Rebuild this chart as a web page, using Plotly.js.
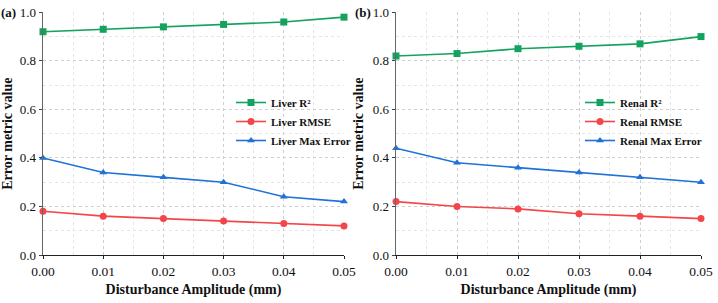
<!DOCTYPE html>
<html>
<head>
<meta charset="utf-8">
<script src="https://cdn.plot.ly/plotly-3.0.1.min.js"></script>
<style>
  html, body { margin: 0; padding: 0; background: #fff; }
  #chart { width: 718px; height: 303px; }
</style>
</head>
<body>
<div id="chart"></div>
<script>
// Disturbance amplitudes (mm)
const amplitude = [0.00, 0.01, 0.02, 0.03, 0.04, 0.05];

// Liver metrics
const liverR2 = [0.92, 0.93, 0.94, 0.95, 0.96, 0.98];
const liverRMSE = [0.18, 0.16, 0.15, 0.14, 0.13, 0.12];
const liverMaxErr = [0.40, 0.34, 0.32, 0.30, 0.24, 0.22];

// Renal metrics
const renalR2 = [0.82, 0.83, 0.85, 0.86, 0.87, 0.90];
const renalRMSE = [0.22, 0.20, 0.19, 0.17, 0.16, 0.15];
const renalMaxErr = [0.44, 0.38, 0.36, 0.34, 0.32, 0.30];

const GREEN = '#14a35f';
const RED = '#f4464a';
const BLUE = '#1f72d8';
const SERIF = 'Liberation Serif, Times New Roman, serif';

function series(y, name, color, symbol, xa, ya, legend) {
  return {
    x: amplitude, y: y, name: name, type: 'scatter', mode: 'lines+markers',
    xaxis: xa, yaxis: ya, legend: legend, cliponaxis: false,
    line: { color: color, width: 1.6 },
    marker: { color: color, symbol: symbol, size: 7 }
  };
}

const traces = [
  series(liverR2, 'Liver R²', GREEN, 'square', 'x', 'y', 'legend'),
  series(liverRMSE, 'Liver RMSE', RED, 'circle', 'x', 'y', 'legend'),
  series(liverMaxErr, 'Liver Max Error', BLUE, 'triangle-up', 'x', 'y', 'legend'),
  series(renalR2, 'Renal R²', GREEN, 'square', 'x2', 'y2', 'legend2'),
  series(renalRMSE, 'Renal RMSE', RED, 'circle', 'x2', 'y2', 'legend2'),
  series(renalMaxErr, 'Renal Max Error', BLUE, 'triangle-up', 'x2', 'y2', 'legend2')
];

const W = 718, H = 303;
const yDomain = [1 - 255 / H, 1 - 12.3 / H];

function xAxis(domain, anchor) {
  return {
    domain: domain, anchor: anchor, range: [0, 0.05], dtick: 0.01, tick0: 0,
    tickformat: '.2f', showline: true, linecolor: '#222', linewidth: 1.3,
    ticks: 'outside', ticklen: 3, tickcolor: '#222',
    showgrid: true, gridcolor: '#cfcfcf', griddash: 'dot', gridwidth: 1,
    minor: { dtick: 0.005, showgrid: true, gridcolor: '#e6e6e6', griddash: 'dot' },
    zeroline: false, tickfont: { family: SERIF, size: 13.5, color: '#111' },
    title: { text: '<b>Disturbance Amplitude (mm)</b>', font: { family: SERIF, size: 14, color: '#111' }, standoff: 6 }
  };
}

function yAxis(anchor) {
  return {
    domain: yDomain, anchor: anchor, range: [0, 1], dtick: 0.2, tick0: 0,
    tickformat: '.1f', showline: true, linecolor: '#666', linewidth: 1.3,
    ticks: 'outside', ticklen: 3, tickcolor: '#444',
    showgrid: true, gridcolor: '#cfcfcf', griddash: 'dot', gridwidth: 1,
    minor: { dtick: 0.1, showgrid: true, gridcolor: '#e6e6e6', griddash: 'dot' },
    zeroline: false, tickfont: { family: SERIF, size: 13, color: '#111' },
    title: { text: '<b>Error metric value</b>', font: { family: SERIF, size: 14, color: '#111' }, standoff: 6 }
  };
}

const legendStyle = {
  font: { family: SERIF, size: 11, color: '#111', weight: 'bold' },
  bgcolor: 'rgba(0,0,0,0)', borderwidth: 0, tracegroupgap: 0,
  xanchor: 'left', yanchor: 'top', itemwidth: 30
};

const layout = {
  width: W, height: H,
  margin: { l: 0, r: 0, t: 0, b: 0 },
  paper_bgcolor: '#fff', plot_bgcolor: '#fff',
  showlegend: true,
  xaxis: xAxis([43 / W, 344 / W], 'y'),
  yaxis: yAxis('x'),
  xaxis2: xAxis([396 / W, 701 / W], 'y2'),
  yaxis2: yAxis('x2'),
  legend: Object.assign({ x: 231 / W, y: 1 - 88 / H }, legendStyle),
  legend2: Object.assign({ x: 580 / W, y: 1 - 88 / H }, legendStyle),
  annotations: [
    { text: '<b>(a)</b>', x: 0, y: 1 - 12 / H, xref: 'paper', yref: 'paper', xanchor: 'left', yanchor: 'middle', showarrow: false, borderpad: 0, font: { family: SERIF, size: 13, color: '#111' } },
    { text: '<b>(b)</b>', x: 354 / W, y: 1 - 12 / H, xref: 'paper', yref: 'paper', xanchor: 'left', yanchor: 'middle', showarrow: false, borderpad: 0, font: { family: SERIF, size: 13, color: '#111' } }
  ]
};

Plotly.newPlot('chart', traces, layout, { displayModeBar: false, staticPlot: true });
</script>
</body>
</html>
